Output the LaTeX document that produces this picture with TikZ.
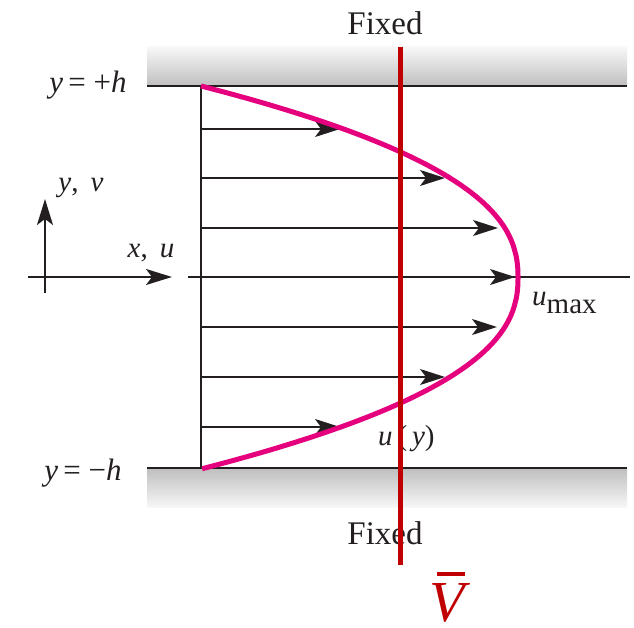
\documentclass[tikz,border=0pt]{standalone}
\usepackage{fontspec}
\setmainfont{Liberation Serif}
\usetikzlibrary{arrows.meta}
\definecolor{txt}{HTML}{231F20}
\definecolor{pinkc}{HTML}{E5007E}
\definecolor{redc}{HTML}{C00000}
\begin{document}
\begin{tikzpicture}[x=1pt,y=-1pt,
  lbl/.style={text=txt,inner sep=0pt,font=\fontsize{29}{31}\selectfont},
  hlbl/.style={text=txt,inner sep=0pt,font=\fontsize{31}{33}\selectfont},
  fixedlbl/.style={text=txt,inner sep=0pt,font=\fontsize{33}{35}\selectfont},
  wallbox/.style={inner sep=0pt,minimum width=480pt,minimum height=39pt},
  wallline/.style={draw=txt,line width=2pt},
  thinline/.style={draw=txt,line width=1.8pt},
  vel/.style={draw=txt,line width=1.8pt,-{Stealth[length=25pt,width=16pt,inset=6pt]}},
  axarrow/.style={draw=txt,line width=1.8pt,-{Stealth[length=26pt,width=16pt,inset=6pt]}},
  profile/.style={draw=pinkc,line width=5pt},
  redline/.style={draw=redc,line width=5pt}]
\useasboundingbox (0,0) rectangle (634,628);
% walls
\node[wallbox,top color=gray!6,bottom color=gray!50] (topwall) at (387,66.5) {};
\node[wallbox,top color=gray!50,bottom color=gray!6] (botwall) at (387,488) {};
\draw[wallline] (topwall.south west) -- (topwall.south east);
\draw[wallline] (botwall.north west) -- (botwall.north east);
% profile base line
\coordinate (ptop) at (201,86);
\coordinate (pbot) at (201,469);
\draw[thinline] (ptop) -- (pbot);
% centerline
\coordinate (cl) at (188,277);
\coordinate (cr) at (630,277);
\draw[thinline] (cl) -- (cr);
% velocity arrows
\foreach \yy/\xx [count=\i] in {129/340,178/445,228/498,277/515,327/497,377/445,427/340}{
  \coordinate (s\i) at (201,\yy);
  \coordinate (e\i) at (\xx,\yy);
  \draw[vel] (s\i) -- (e\i);
}
% profile curve
\draw[profile] plot[domain=-1:1,samples=100,smooth] ({201+317*(1-abs(\x)^2.35)},{277.5+191.5*\x});
% small axes
\coordinate (ay0) at (45,293);
\coordinate (ay1) at (45,199);
\coordinate (ax0) at (28,277);
\coordinate (ax1) at (172,277);
\draw[axarrow] (ay0) -- (ay1);
\draw[axarrow] (ax0) -- (ax1);
% labels
\node[fixedlbl,anchor=base] (fixtop) at (385,35) {Fixed};
\node[fixedlbl,anchor=base] (fixbot) at (385,544) {Fixed};
\node[hlbl,anchor=base] (yph) at (88,93) {\textit{y}\,= +\textit{h}};
\node[hlbl,anchor=base] (ymh) at (83,480) {\textit{y}\,= −\textit{h}};
\node[lbl,anchor=base] (yv) at (81,192) {\textit{y},\, \textit{v}};
\node[lbl,anchor=base] (xu) at (151,258) {\textit{x},\, \textit{u}};
\node[lbl,anchor=base west] (umax) at (532,305) {\textit{u}\raisebox{-8pt}{max}};
\node[lbl,anchor=base west] (uy) at (378,445) {\textit{u}\,(\,\textit{y})};
% red line
\coordinate (rt) at (400,47);
\coordinate (rb) at (400,565);
\draw[redline] (rt) -- (rb);
\node[inner sep=0pt,anchor=base west,text depth=0pt,text=redc,font=\fontsize{58}{60}\selectfont\itshape] (vbar) at (429,621)
  {\makebox[0pt][l]{\hspace{8pt}\raisebox{45pt}{\rule{28pt}{4pt}}}V};
\end{tikzpicture}
\end{document}
